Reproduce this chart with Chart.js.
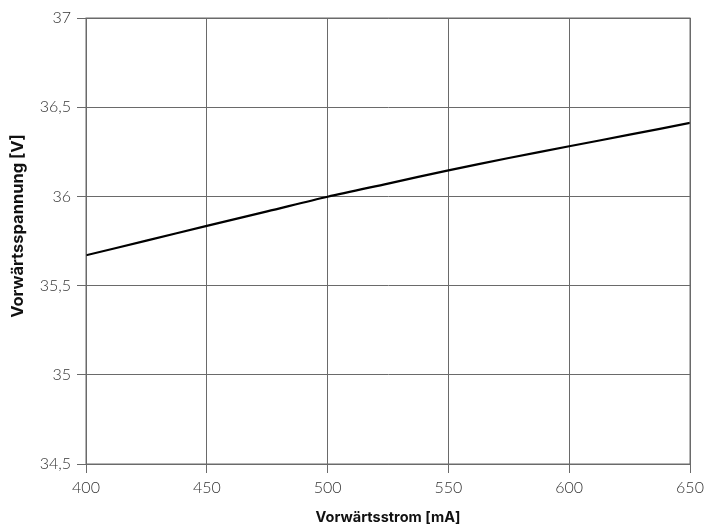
<!DOCTYPE html>
<html><head><meta charset="utf-8">
<script src="https://cdn.jsdelivr.net/npm/chart.js@4.4.0/dist/chart.umd.min.js"></script>
<style>html,body{margin:0;padding:0;background:#fff}#wrap{width:709px;height:526px}</style>
</head><body><div id="wrap"><canvas id="c" width="709" height="526"></canvas></div>
<script>
const currentMA = [400, 425, 450, 475, 500, 525, 550, 575, 600, 625, 650];
const voltageV = [35.67, 35.752, 35.835, 35.916, 35.998, 36.072, 36.146, 36.215, 36.281, 36.346, 36.412];
const xTicks = [400, 450, 500, 550, 600, 650];
const yTicks = [34.5, 35, 35.5, 36, 36.5, 37];
const xTitle = 'Vorwärtsstrom [mA]';
const yTitle = 'Vorwärtsspannung [V]';

const fmt = v => String(v).replace('.', ',');
const gridCol = '#6a6a6a';
const tickFont = {family:'Lato', size:16, weight:300};
const titleFont = {family:'Inter', size:14.5, weight:'bold'};
new Chart(document.getElementById('c'), {
  type: 'line',
  data: { datasets: [{ data: currentMA.map((x,i)=>({x, y: voltageV[i]})), borderColor:'#000', borderWidth:2.2, pointRadius:0, tension:0.3, fill:false }]},
  options: {
    responsive:false, animation:false,
    layout:{padding:{left:0, top:18, right:19, bottom:0}},
    plugins:{legend:{display:false}, tooltip:{enabled:false}},
    scales:{
      x:{ type:'linear', min:400, max:650,
        afterBuildTicks: s => { s.ticks = xTicks.map(v=>({value:v})); },
        afterFit: s => { s.height = 62; },
        ticks:{ color:'#333', font:tickFont, padding:5, callback:v=>fmt(v) },
        grid:{ color:gridCol, lineWidth:1, tickLength:9 },
        border:{ color:gridCol },
        title:{ display:true, text:xTitle, color:'#111', font:titleFont, padding:{top:2,bottom:0} }
      },
      y:{ type:'linear', min:34.5, max:37,
        afterBuildTicks: s => { s.ticks = yTicks.map(v=>({value:v})); },
        afterFit: s => { s.width = 86; },
        ticks:{ color:'#333', font:tickFont, padding:6, callback:v=>fmt(v) },
        grid:{ color:gridCol, lineWidth:1, tickLength:9 },
        border:{ color:gridCol },
        title:{ display:false }
      }
    }
  },
  plugins:[{id:'frame', afterDatasetsDraw(ch){const a=ch.chartArea,c=ch.ctx;c.save();c.strokeStyle=gridCol;c.lineWidth=1;c.strokeRect(a.left,a.top,a.right-a.left,a.bottom-a.top);
    c.translate(18, 226);c.rotate(-Math.PI/2);c.fillStyle='#111';c.font='bold 16.5px Inter';c.textAlign='center';c.textBaseline='middle';c.fillText(yTitle,0,0);
    c.restore();}}]
});
</script></body></html>
